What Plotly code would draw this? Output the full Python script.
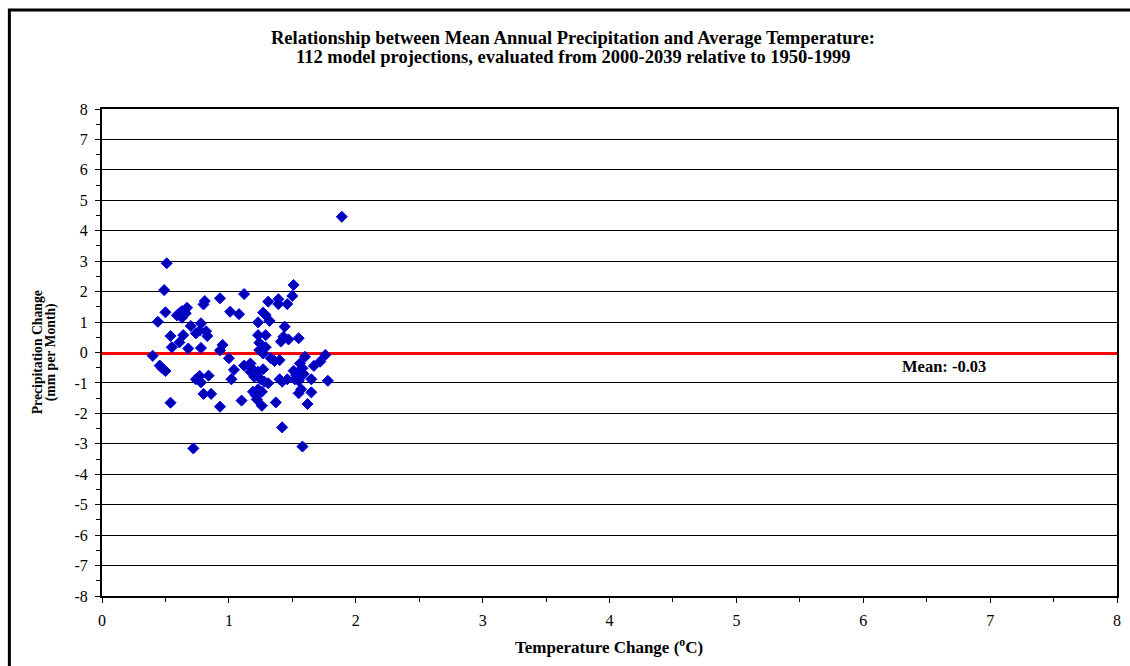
import plotly.graph_objects as go

# Data
temp_change = [
    0.51, 0.49, 1.12, 0.93, 0.50, 0.44, 1.01, 1.08, 0.81, 0.80,
    0.67, 0.63, 0.61, 0.59, 0.66, 0.63, 0.70, 0.78, 0.74, 0.77,
    0.82, 0.83, 0.54, 0.64, 0.61, 0.55, 0.68, 0.78, 0.95, 0.93,
    0.40, 1.00, 0.455, 0.476, 0.50, 1.04, 1.12, 0.74, 0.77, 0.78,
    0.84, 1.02, 0.80, 0.86, 0.54, 0.93, 1.10, 0.72, 1.51, 1.50,
    1.31, 1.39, 1.39, 1.46, 1.27, 1.29, 1.23, 1.32, 1.44, 1.23,
    1.29, 1.43, 1.41, 1.47, 1.55, 1.24, 1.29, 1.26, 1.27, 1.24,
    1.33, 1.36, 1.40, 1.60, 1.76, 1.56, 1.58, 1.55, 1.51, 1.53,
    1.57, 1.59, 1.67, 1.72, 1.17, 1.18, 1.17, 1.20, 1.23, 1.27,
    1.25, 1.28, 1.31, 1.40, 1.42, 1.46, 1.52, 1.55, 1.65, 1.78,
    1.19, 1.23, 1.26, 1.21, 1.23, 1.22, 1.26, 1.37, 1.57, 1.55,
    1.65, 1.62, 1.42, 1.58, 1.89,
]
precip_change = [
    2.93, 2.05, 1.92, 1.78, 1.32, 1.01, 1.34, 1.26, 1.69, 1.58,
    1.47, 1.36, 1.29, 1.22, 1.29, 1.14, 0.87, 0.96, 0.63, 0.72,
    0.70, 0.54, 0.54, 0.57, 0.33, 0.17, 0.13, 0.15, 0.25, 0.07,
    -0.11, -0.19, -0.43, -0.52, -0.61, -0.57, -0.43, -0.88, -0.77, -0.98,
    -0.76, -0.88, -1.36, -1.36, -1.65, -1.78, -1.58, -3.15, 2.22, 1.86,
    1.67, 1.75, 1.59, 1.59, 1.31, 1.23, 0.99, 1.04, 0.85, 0.57,
    0.57, 0.52, 0.36, 0.43, 0.47, 0.32, 0.17, 0.08, -0.03, 0.08,
    -0.19, -0.28, -0.25, -0.14, -0.08, -0.36, -0.52, -0.63, -0.60, -0.74,
    -0.77, -0.71, -0.44, -0.30, -0.36, -0.52, -0.63, -0.80, -0.63, -0.55,
    -0.88, -0.96, -1.01, -0.88, -0.96, -0.88, -0.88, -0.93, -0.88, -0.93,
    -1.29, -1.21, -1.29, -1.40, -1.36, -1.54, -1.75, -1.64, -1.21, -1.34,
    -1.31, -1.69, -2.46, -3.09, 4.46,
]
mean_value = -0.03
mean_label = "Mean: -0.03"

x_ticks = [0, 1, 2, 3, 4, 5, 6, 7, 8]
x_tick_text = ["0", "1", "2", "3", "4", "5", "6", "7", "8"]
y_ticks = [-8, -7, -6, -5, -4, -3, -2, -1, 0, 1, 2, 3, 4, 5, 6, 7, 8]
y_tick_text = ["-8", "-7", "-6", "-5", "-4", "-3", "-2", "-1", "0",
               "1", "2", "3", "4", "5", "6", "7", "8"]

title_line1 = "Relationship between Mean Annual Precipitation and Average Temperature:"
title_line2 = "112 model projections, evaluated from 2000-2039 relative to 1950-1999"
x_title = "<b>Temperature Change (<sup>o</sup>C)</b>"
y_title_line1 = "Precipitation Change"
y_title_line2 = "(mm per Month)"

FONT = "Liberation Serif"

fig = go.Figure()

# Mean line (drawn first, so markers sit on top)
fig.add_trace(go.Scatter(
    x=[x_ticks[0], x_ticks[-1]], y=[mean_value, mean_value],
    mode="lines", line=dict(color="#FF0000", width=3),
    hoverinfo="skip", showlegend=False,
))

fig.add_trace(go.Scatter(
    x=temp_change, y=precip_change, mode="markers",
    marker=dict(symbol="diamond", size=8.5, color="#0000B0",
                line=dict(color="#0000FF", width=1)),
    showlegend=False,
))

W, H = 1130, 666
L, R, T, B = 102, 1121, 109, 596
pw, ph = R - L, B - T

def px_x(px):
    return (px - L) / pw

def px_y(py):
    return (B - py) / ph

fig.update_layout(
    width=W, height=H,
    margin=dict(l=L, r=W - R, t=T, b=H - B),
    paper_bgcolor="white", plot_bgcolor="white",
    font=dict(family=FONT, color="black", size=14),
    showlegend=False,
    xaxis=dict(
        range=[0, 8], tickvals=x_ticks, ticktext=x_tick_text,
        showgrid=False, zeroline=False,
        showline=True, linecolor="black", linewidth=2, mirror=True,
        ticks="outside", ticklen=5, tickwidth=1, tickcolor="black",
        minor=dict(dtick=0.5, ticks="outside", ticklen=4, tickcolor="black", showgrid=False),
        tickfont=dict(size=16, family=FONT), ticklabelstandoff=4,
    ),
    yaxis=dict(
        range=[-8, 8], tickvals=y_ticks, ticktext=y_tick_text,
        showgrid=True, gridcolor="black", gridwidth=1,
        zeroline=False,
        showline=True, linecolor="black", linewidth=2, mirror=True,
        ticks="outside", ticklen=5, tickwidth=1, tickcolor="black",
        minor=dict(dtick=0.5, ticks="outside", ticklen=4, tickcolor="black", showgrid=False),
        tickfont=dict(size=16, family=FONT), ticklabelstandoff=4,
    ),
    annotations=[
        dict(text="<b>" + title_line1 + "</b>", xref="paper", yref="paper",
             x=px_x(575), y=px_y(38), xanchor="center", yanchor="middle",
             showarrow=False, font=dict(size=18.5, family=FONT)),
        dict(text="<b>" + title_line2 + "</b>", xref="paper", yref="paper",
             x=px_x(575), y=px_y(57), xanchor="center", yanchor="middle",
             showarrow=False, font=dict(size=18.5, family=FONT)),
        dict(text=x_title, xref="paper", yref="paper",
             x=px_x(611), y=px_y(646), xanchor="center", yanchor="middle",
             showarrow=False, font=dict(size=17, family=FONT)),
        dict(text="<b>" + y_title_line1 + "</b>", xref="paper", yref="paper",
             x=px_x(37), y=px_y(352), xanchor="center", yanchor="middle",
             textangle=-90, showarrow=False, font=dict(size=13.7, family=FONT)),
        dict(text="<b>" + y_title_line2 + "</b>", xref="paper", yref="paper",
             x=px_x(51), y=px_y(352), xanchor="center", yanchor="middle",
             textangle=-90, showarrow=False, font=dict(size=13.7, family=FONT)),
        dict(text="<b>" + mean_label + "</b>", xref="x", yref="y",
             x=6.29, y=mean_value, xanchor="left", yanchor="top", yshift=-2,
             showarrow=False, font=dict(size=16.5, family=FONT)),
    ],
    shapes=[
        dict(type="rect", xref="paper", yref="paper",
             x0=px_x(9), x1=px_x(1145), y0=px_y(680), y1=px_y(10),
             line=dict(color="black", width=3), fillcolor="rgba(0,0,0,0)", layer="below"),
    ],
)

fig.write_html("out.html")
